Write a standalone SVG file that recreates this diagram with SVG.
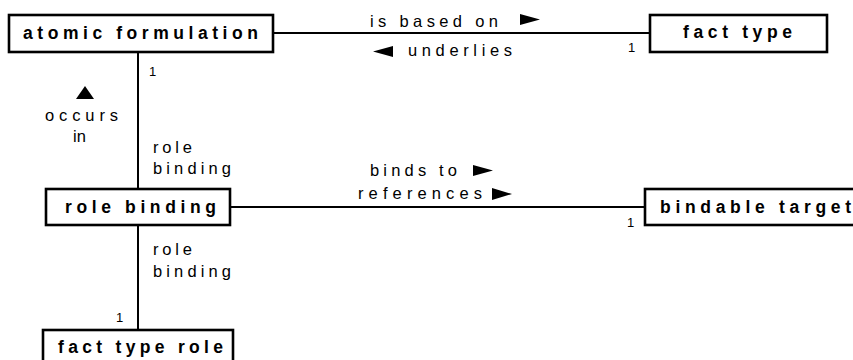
<svg xmlns="http://www.w3.org/2000/svg" width="853" height="360" viewBox="0 0 853 360">
<style>
.box{fill:#fff;stroke:#000;stroke-width:2.6}
.t{font-family:"Liberation Sans",Arial,sans-serif;font-weight:bold;font-size:17.5px;fill:#000}
.l{font-family:"Liberation Sans",Arial,sans-serif;font-size:16.5px;fill:#000}
.m{font-family:"Liberation Sans",Arial,sans-serif;font-size:13px;fill:#000}
.c{stroke:#000;stroke-width:2;fill:none}
.a{fill:#000}
</style>
<rect width="853" height="360" fill="#fff"/>
<g id="connectors">
<line class="c" x1="273" y1="33" x2="650" y2="33"/>
<line class="c" x1="138" y1="52" x2="138" y2="189"/>
<line class="c" x1="230" y1="207" x2="645" y2="207"/>
<line class="c" x1="138" y1="225" x2="138" y2="330"/>
<text class="l" x="370" y="27" textLength="128" lengthAdjust="spacing">is based on</text>
<polygon class="a" points="520,14 540,19.5 520,25"/>
<polygon class="a" points="373,51.5 393,46 393,57"/>
<text class="l" x="408" y="56" textLength="104" lengthAdjust="spacing">underlies</text>
<text class="m" x="149" y="76">1</text>
<text class="m" x="628" y="52">1</text>
<polygon class="a" points="76,99 85,86 94,99"/>
<text class="l" x="45" y="121" textLength="73" lengthAdjust="spacing">occurs</text>
<text class="l" x="73" y="142">in</text>
<text class="l" x="153" y="153" textLength="39" lengthAdjust="spacing">role</text>
<text class="l" x="153" y="174" textLength="78" lengthAdjust="spacing">binding</text>
<text class="l" x="370" y="176" textLength="87" lengthAdjust="spacing">binds to</text>
<polygon class="a" points="473,165 493,170.5 473,176"/>
<text class="l" x="358" y="199" textLength="124" lengthAdjust="spacing">references</text>
<polygon class="a" points="492,188 512,194 492,200"/>
<text class="m" x="627" y="227">1</text>
<text class="l" x="153" y="255" textLength="39" lengthAdjust="spacing">role</text>
<text class="l" x="153" y="277" textLength="78" lengthAdjust="spacing">binding</text>
<text class="m" x="116" y="322">1</text>
</g>
<g id="atomic-formulation">
<rect class="box" x="9" y="15" width="264" height="37"/>
<text class="t" x="23" y="39" textLength="235" lengthAdjust="spacing">atomic formulation</text>
</g>
<g id="fact-type">
<rect class="box" x="650" y="15" width="177" height="37"/>
<text class="t" x="683" y="38" textLength="109" lengthAdjust="spacing">fact type</text>
</g>
<g id="role-binding">
<rect class="box" x="46" y="189" width="184" height="36"/>
<text class="t" x="65" y="213" textLength="151" lengthAdjust="spacing">role binding</text>
</g>
<g id="bindable-target">
<rect class="box" x="645" y="189" width="220" height="36"/>
<text class="t" x="660" y="213" textLength="191" lengthAdjust="spacing">bindable target</text>
</g>
<g id="fact-type-role">
<rect class="box" x="43" y="330" width="190" height="40"/>
<text class="t" x="58" y="353" textLength="165" lengthAdjust="spacing">fact type role</text>
</g>
</svg>
